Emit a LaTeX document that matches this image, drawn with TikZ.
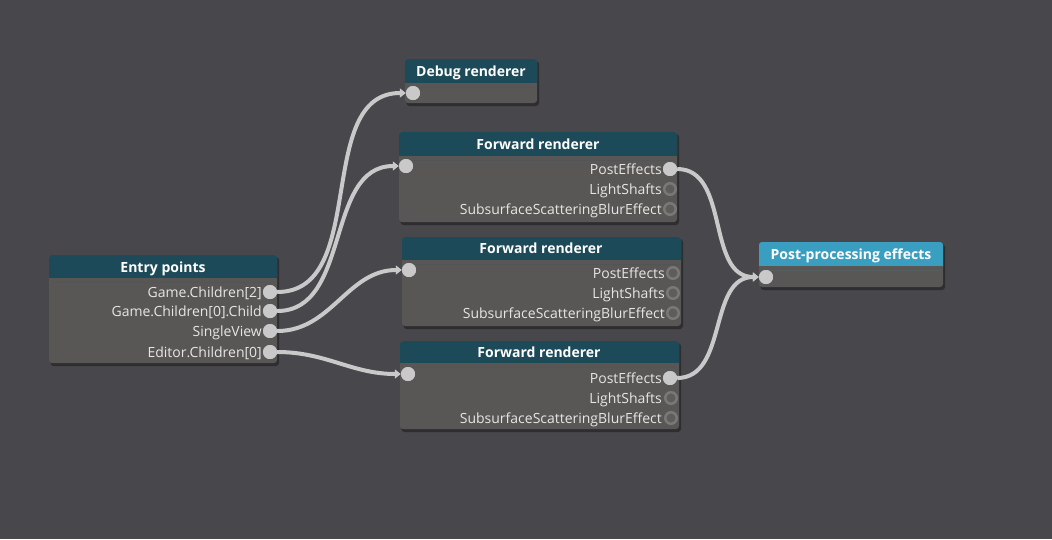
\documentclass[tikz,border=0pt]{standalone}
\usepackage{fontspec}
\setmainfont{Open Sans}
\usetikzlibrary{arrows.meta}
\definecolor{bg}{HTML}{48474C}
\definecolor{body}{HTML}{595755}
\definecolor{hdr}{HTML}{1C4A58}
\definecolor{hdrpp}{HTML}{3A9EC0}
\definecolor{wirec}{HTML}{C9C9C9}
\definecolor{txt}{HTML}{E6E6E6}
\definecolor{ringc}{HTML}{7A7876}
\definecolor{ringin}{HTML}{5F5D5B}
\tikzset{
  lbl/.style={font=\fontsize{14}{16}\selectfont, text=txt, anchor=base east, inner sep=0pt, yshift=-5pt},
  ttl/.style={font=\fontsize{14}{16}\selectfont\bfseries, text=white, inner sep=0pt, anchor=base, yshift=-5pt},
  porton/.style={circle, fill=wirec, minimum size=14pt, inner sep=0pt},
  portoff/.style={circle, fill=ringin, draw=ringc, line width=2.5pt, minimum size=11.5pt, inner sep=0pt},
  wire/.style={draw=wirec, line width=4pt, -{Triangle[length=6pt,width=9pt]}},
}
\newcommand{\mybox}[6]{% x1 y1 x2 yh y2 headercolor
  \fill[black, opacity=0.35, rounded corners=3pt] (#1+1.5,#2+2) rectangle (#3+2,#5+3);
  \fill[body, rounded corners=3pt] (#1,#2) rectangle (#3,#5);
  \fill[#6, rounded corners=3pt] (#1,#2) rectangle (#3,#4+4);
  \fill[body] (#1,#4) rectangle (#3,#4+4);
}
\begin{document}
\begin{tikzpicture}[x=1pt,y=-1pt]
\fill[bg] (0,0) rectangle (1052,539);
\useasboundingbox (0,0) rectangle (1052,539);

% Entry points
\mybox{49}{255}{277}{278}{363}{hdr}
\node[ttl] (ept) at (163,267) {Entry points};
\node[porton] (e1) at (270,292) {};
\node[porton] (e2) at (270,311) {};
\node[porton] (e3) at (270,331) {};
\node[porton] (e4) at (270,352) {};
\node[lbl] (le1) at (262,292) {Game.Children[2]};
\node[lbl] (le2) at (262,311) {Game.Children[0].Child};
\node[lbl] (le3) at (262,331) {SingleView};
\node[lbl] (le4) at (262,352) {Editor.Children[0]};

% Debug renderer
\mybox{405}{59}{537}{83}{103}{hdr}
\node[ttl] (dbt) at (471,71) {Debug renderer};
\node[porton] (dbin) at (413,93) {};

% Forward renderer 1
\mybox{399}{132}{677}{156}{222}{hdr}
\node[ttl] (f1t) at (538,144.5) {Forward renderer};
\node[porton] (f1in) at (406,166) {};
\node[porton] (f1a) at (670,169) {};
\node[portoff] (f1b) at (670,189) {};
\node[portoff] (f1c) at (670,209) {};
\node[lbl] at (662,169) {PostEffects};
\node[lbl] at (662,189) {LightShafts};
\node[lbl] at (662,209) {SubsurfaceScatteringBlurEffect};

% Forward renderer 2
\mybox{402}{237}{681}{260}{326}{hdr}
\node[ttl] (f2t) at (541,248.5) {Forward renderer};
\node[porton] (f2in) at (409,270) {};
\node[portoff] (f2a) at (673,273) {};
\node[portoff] (f2b) at (673,293) {};
\node[portoff] (f2c) at (673,313) {};
\node[lbl] at (665,273) {PostEffects};
\node[lbl] at (665,293) {LightShafts};
\node[lbl] at (665,313) {SubsurfaceScatteringBlurEffect};

% Forward renderer 3
\mybox{400}{341}{679}{363}{429}{hdr}
\node[ttl] (f3t) at (539,352.5) {Forward renderer};
\node[porton] (f3in) at (408,374) {};
\node[porton] (f3a) at (670,378) {};
\node[portoff] (f3b) at (671,398) {};
\node[portoff] (f3c) at (671,418) {};
\node[lbl] at (662,378) {PostEffects};
\node[lbl] at (662,398) {LightShafts};
\node[lbl] at (662,418) {SubsurfaceScatteringBlurEffect};

% Post-processing effects
\mybox{759}{242}{943}{266}{287}{hdrpp}
\node[ttl] (ppt) at (851,254.5) {Post-processing effects};
\node[porton] (ppin) at (766,277) {};

% connectors
\draw[wire] (e1) to[out=0,in=180] (dbin);
\draw[wire] (e2) to[out=0,in=180] (f1in);
\draw[wire] (e3) to[out=0,in=180] (f2in);
\draw[wire] (e4) to[out=0,in=180] (f3in);
\draw[wire] (f1a) to[out=0,in=180] (ppin);
\draw[wire] (f3a) to[out=0,in=180] (ppin);

% redraw connected ports on top
\foreach \p in {e1,e2,e3,e4,dbin,f1in,f2in,f3in,f1a,f3a,ppin}
  \fill[wirec] (\p.center) circle (7pt);
\end{tikzpicture}
\end{document}
